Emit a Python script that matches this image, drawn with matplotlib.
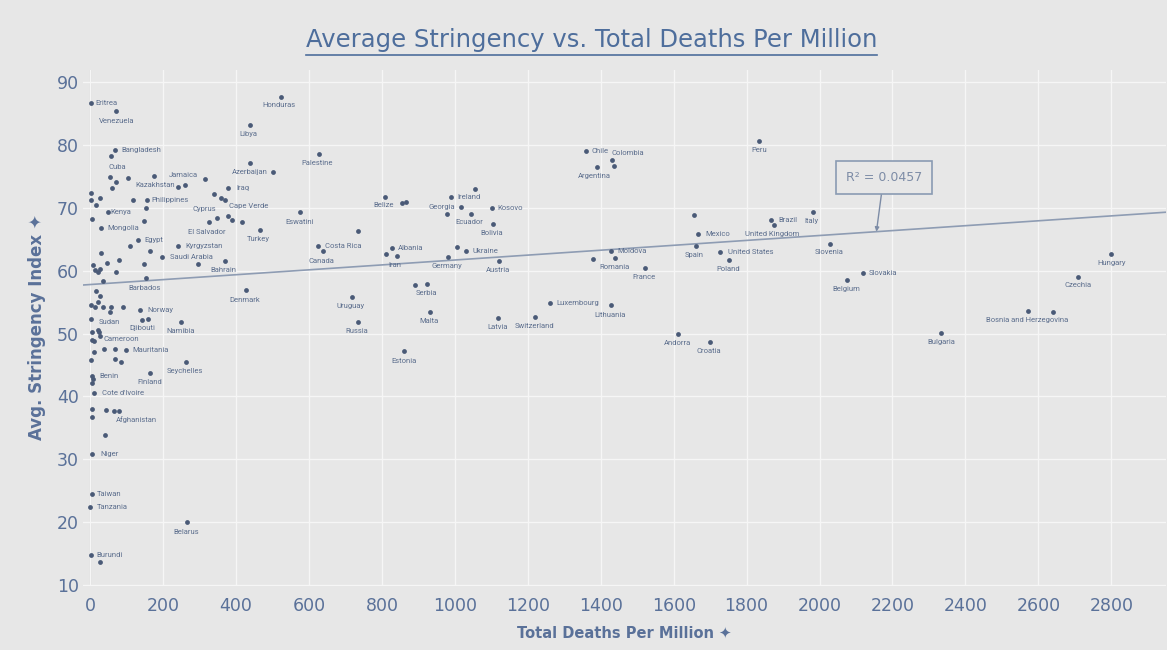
import numpy as np
import matplotlib.pyplot as plt

# labelled countries: total deaths per million, average stringency index
countries = [
    "Eritrea", "Venezuela", "Honduras", "Libya", "Bangladesh", "Cuba", "Palestine",
    "Azerbaijan", "Jamaica", "Kazakhstan", "Iraq", "Philippines", "Cyprus", "Cape Verde",
    "Kenya", "Mongolia", "El Salvador", "Turkey", "Eswatini", "Costa Rica", "Canada",
    "Egypt", "Kyrgyzstan", "Saudi Arabia", "Bahrain", "Barbados", "Denmark", "Uruguay",
    "Norway", "Sudan", "Djibouti", "Namibia", "Russia", "Cameroon", "Mauritania",
    "Seychelles", "Finland", "Benin", "Cote d'Ivoire", "Afghanistan", "Niger", "Taiwan",
    "Tanzania", "Belarus", "Burundi", "Belize", "Ireland", "Georgia", "Ecuador", "Kosovo",
    "Bolivia", "Albania", "Iran", "Ukraine", "Germany", "Austria", "Serbia", "Malta",
    "Latvia", "Luxembourg", "Switzerland", "Lithuania", "Estonia", "Romania", "Moldova",
    "Mexico", "Spain", "United States", "Poland", "France", "Brazil", "United Kingdom",
    "Italy", "Slovenia", "Slovakia", "Belgium", "Andorra", "Croatia", "Hungary", "Czechia",
    "Bosnia and Herzegovina", "Bulgaria", "Chile", "Colombia", "Argentina", "Peru",
]
deaths = [
    1, 71, 524, 437, 69, 58, 626,
    437, 316, 241, 379, 155, 340, 370,
    48, 30, 325, 465, 575, 624, 637,
    130, 241, 198, 369, 154, 427, 717,
    137, 2, 142, 250, 733, 26, 98,
    262, 163, 6, 11, 80, 6, 4,
    0, 265, 2, 807, 989, 1018, 1043, 1102,
    1104, 827, 842, 1031, 980, 1121, 924, 931,
    1119, 1260, 1221, 1427, 860, 1440, 1427,
    1668, 1660, 1727, 1751, 1521, 1866, 1874,
    1981, 2030, 2120, 2075, 1613, 1699, 2800, 2710,
    2571, 2333, 1360, 1430, 1389, 1834,
]
stringency = [
    86.6, 85.4, 87.7, 83.2, 79.2, 78.3, 78.6,
    77.2, 74.6, 73.3, 73.2, 71.3, 72.2, 71.2,
    69.3, 66.8, 67.7, 66.5, 69.3, 64.0, 63.2,
    64.9, 63.9, 62.2, 61.5, 58.8, 57.0, 55.8,
    53.8, 52.3, 52.1, 51.8, 51.8, 49.6, 47.4,
    45.5, 43.8, 43.2, 40.5, 37.7, 30.9, 24.5,
    22.4, 20.0, 14.8, 71.8, 71.7, 70.2, 69.1, 70.0,
    67.5, 63.6, 62.3, 63.2, 62.2, 61.5, 57.9, 53.5,
    52.4, 54.9, 52.6, 54.6, 47.2, 62.0, 63.2,
    65.8, 64.0, 63.0, 61.7, 60.5, 68.1, 67.2,
    69.3, 64.2, 59.6, 58.6, 49.9, 48.6, 62.7, 59.0,
    53.6, 50.1, 79.0, 77.6, 76.5, 80.6,
]

# countries without a visible label
other_deaths = [
    501, 53, 71, 60, 103, 176, 260, 358, 117, 3, 1, 17, 26, 6, 154, 147,
    348, 379, 390, 416, 733, 108, 163, 296, 30, 46, 80, 147, 7, 12, 21, 26,
    71, 35, 15, 27, 3, 12, 21, 35, 58, 54, 89, 158, 4, 21, 24, 4, 9, 9,
    38, 67, 2, 67, 85, 7, 6, 6, 44, 66, 4, 40, 28, 854, 866, 1054, 978,
    810, 1007, 890, 1380, 1657, 2641, 1435,
]
other_stringency = [
    75.7, 74.9, 74.1, 73.2, 74.8, 75.0, 73.6, 71.6, 71.2, 72.4, 71.2, 70.5, 71.6, 68.3, 69.9, 67.9,
    68.4, 68.7, 68.1, 67.8, 66.3, 63.9, 63.2, 61.0, 62.8, 61.3, 61.7, 61.1, 60.9, 60.1, 59.8, 60.2,
    59.8, 58.4, 56.7, 55.9, 54.6, 54.3, 55.0, 54.2, 54.2, 53.4, 54.2, 52.3, 50.2, 50.6, 50.2, 49.0, 48.8, 47.1,
    47.6, 47.6, 45.8, 45.9, 45.5, 42.7, 42.1, 38.0, 37.9, 37.7, 36.7, 33.8, 13.6, 70.7, 70.9, 73.0, 69.0,
    62.6, 63.7, 57.8, 61.8, 68.9, 53.4, 76.6,
]

# label placement (pixels from the dot; positive dy = downwards)
label_offsets = {
    "Eritrea": (16, 0), "Venezuela": (0, 10), "Honduras": (-2, 8), "Libya": (-1, 9),
    "Bangladesh": (26, 0), "Cuba": (6, 11), "Palestine": (-1, 9), "Azerbaijan": (0, 9),
    "Jamaica": (-22, -4), "Kazakhstan": (-23, -2), "Iraq": (14, 0), "Philippines": (23, 0),
    "Cyprus": (-10, 15), "Cape Verde": (24, 6), "Kenya": (13, 0), "Mongolia": (22, 0),
    "El Salvador": (-2, 10), "Turkey": (-1, 9), "Eswatini": (0, 10), "Costa Rica": (25, 0),
    "Canada": (-1, 10), "Egypt": (16, 0), "Kyrgyzstan": (26, 0), "Saudi Arabia": (29, 0),
    "Bahrain": (-1, 9), "Barbados": (-2, 10), "Denmark": (-1, 10), "Uruguay": (-1, 9),
    "Norway": (20, 0), "Sudan": (18, 3), "Djibouti": (0, 8), "Namibia": (-1, 9),
    "Russia": (-1, 9), "Cameroon": (22, 3), "Mauritania": (25, 0), "Seychelles": (-1, 9),
    "Finland": (0, 9), "Benin": (17, 0), "Cote d'Ivoire": (29, 0), "Afghanistan": (17, 9),
    "Niger": (17, 0), "Taiwan": (17, 0), "Tanzania": (22, 0), "Belarus": (-1, 10),
    "Burundi": (19, 0), "Belize": (-1, 8), "Ireland": (18, 0), "Georgia": (-20, 0),
    "Ecuador": (-1, 8), "Kosovo": (18, 0), "Bolivia": (-1, 9), "Albania": (19, 0),
    "Iran": (-2, 9), "Ukraine": (19, 0), "Germany": (-1, 9), "Austria": (-1, 9),
    "Serbia": (-1, 9), "Malta": (-1, 9), "Latvia": (-1, 9), "Luxembourg": (28, 0),
    "Switzerland": (-1, 9), "Lithuania": (-1, 10), "Estonia": (0, 10), "Romania": (-1, 9),
    "Moldova": (21, 0), "Mexico": (19, 0), "Spain": (-1, 9), "United States": (31, 0),
    "Poland": (-1, 9), "France": (-1, 9), "Brazil": (17, 0), "United Kingdom": (-1, 9),
    "Italy": (-1, 9), "Slovenia": (-1, 8), "Slovakia": (20, 0), "Belgium": (-1, 9),
    "Andorra": (-1, 9), "Croatia": (-1, 9), "Hungary": (0, 9), "Czechia": (0, 8),
    "Bosnia and Herzegovina": (-1, 9), "Bulgaria": (0, 9), "Chile": (14, 0),
    "Colombia": (16, -7), "Argentina": (-2, 9), "Peru": (0, 9),
}

x_ticks = list(range(0, 2801, 200))
y_ticks = list(range(10, 91, 10))

bg = "#e7e7e7"
dot_col = "#4a5a77"
lab_col = "#5c6e8d"
axis_col = "#5a7199"

fig = plt.figure(figsize=(11.67, 6.5), dpi=100, facecolor=bg)
ax = fig.add_axes([0.0711, 0.099, 0.928, 0.794])
ax.set_facecolor(bg)

all_x = np.array(deaths + other_deaths, dtype=float)
all_y = np.array(stringency + other_stringency, dtype=float)

ax.scatter(all_x, all_y, s=12, color=dot_col, zorder=3, linewidths=0)

for name, xv, yv in zip(countries, deaths, stringency):
    dx, dy = label_offsets[name]
    ax.annotate(name, (xv, yv), xytext=(dx, -dy), textcoords="offset pixels",
                ha="center", va="center", fontsize=5.5, color=lab_col,
                family=["Roboto", "DejaVu Sans"], zorder=4)

# linear trend line
slope, intercept = np.polyfit(all_x, all_y, 1)
tx = np.array([-20, 2950])
ax.plot(tx, intercept + slope * tx, color="#8e9cb3", lw=1.2, zorder=2)

xa = 2156
ax.annotate("R² = 0.0457", xy=(xa, intercept + slope * xa), xytext=(2176, 74.9),
            ha="center", va="center", fontsize=9, color="#7d8ca6",
            bbox=dict(boxstyle="square,pad=0.8", fc=bg, ec="#8a9bb3", lw=1.2),
            arrowprops=dict(arrowstyle="-|>", color="#7d8ca6", lw=1, mutation_scale=6,
                            shrinkA=0, shrinkB=0), zorder=5)

ax.set_xlim(-20, 2950)
ax.set_ylim(9.9, 92)
ax.set_xticks(x_ticks)
ax.set_yticks(y_ticks)
ax.grid(True, color="#f6f6f6", lw=1, zorder=0)
ax.axvline(0, color="#c9c9c9", lw=1, zorder=1)
for s in ax.spines.values():
    s.set_visible(False)
ax.tick_params(length=0, labelsize=12.5, labelcolor=axis_col, pad=8)
ax.tick_params(axis="y", pad=3)

ax.set_xlabel("Total Deaths Per Million \u2726", fontsize=10.5, fontweight="bold",
              color=axis_col, labelpad=8)
ax.set_ylabel("Avg. Stringency Index \u2726", fontsize=12, fontweight="bold",
              color=axis_col, labelpad=8)

title = fig.text(0.507, 0.938, "Average Stringency vs. Total Deaths Per Million",
                 ha="center", va="center", fontsize=17.5, color="#4e6e9c")
fig.canvas.draw()
bb = title.get_window_extent().transformed(fig.transFigure.inverted())
fig.add_artist(plt.Line2D([bb.x0, bb.x1], [bb.y0 - 0.004, bb.y0 - 0.004],
                          color="#4e6e9c", lw=1.2, transform=fig.transFigure))

fig.savefig("out.png", dpi=100, facecolor=bg)
